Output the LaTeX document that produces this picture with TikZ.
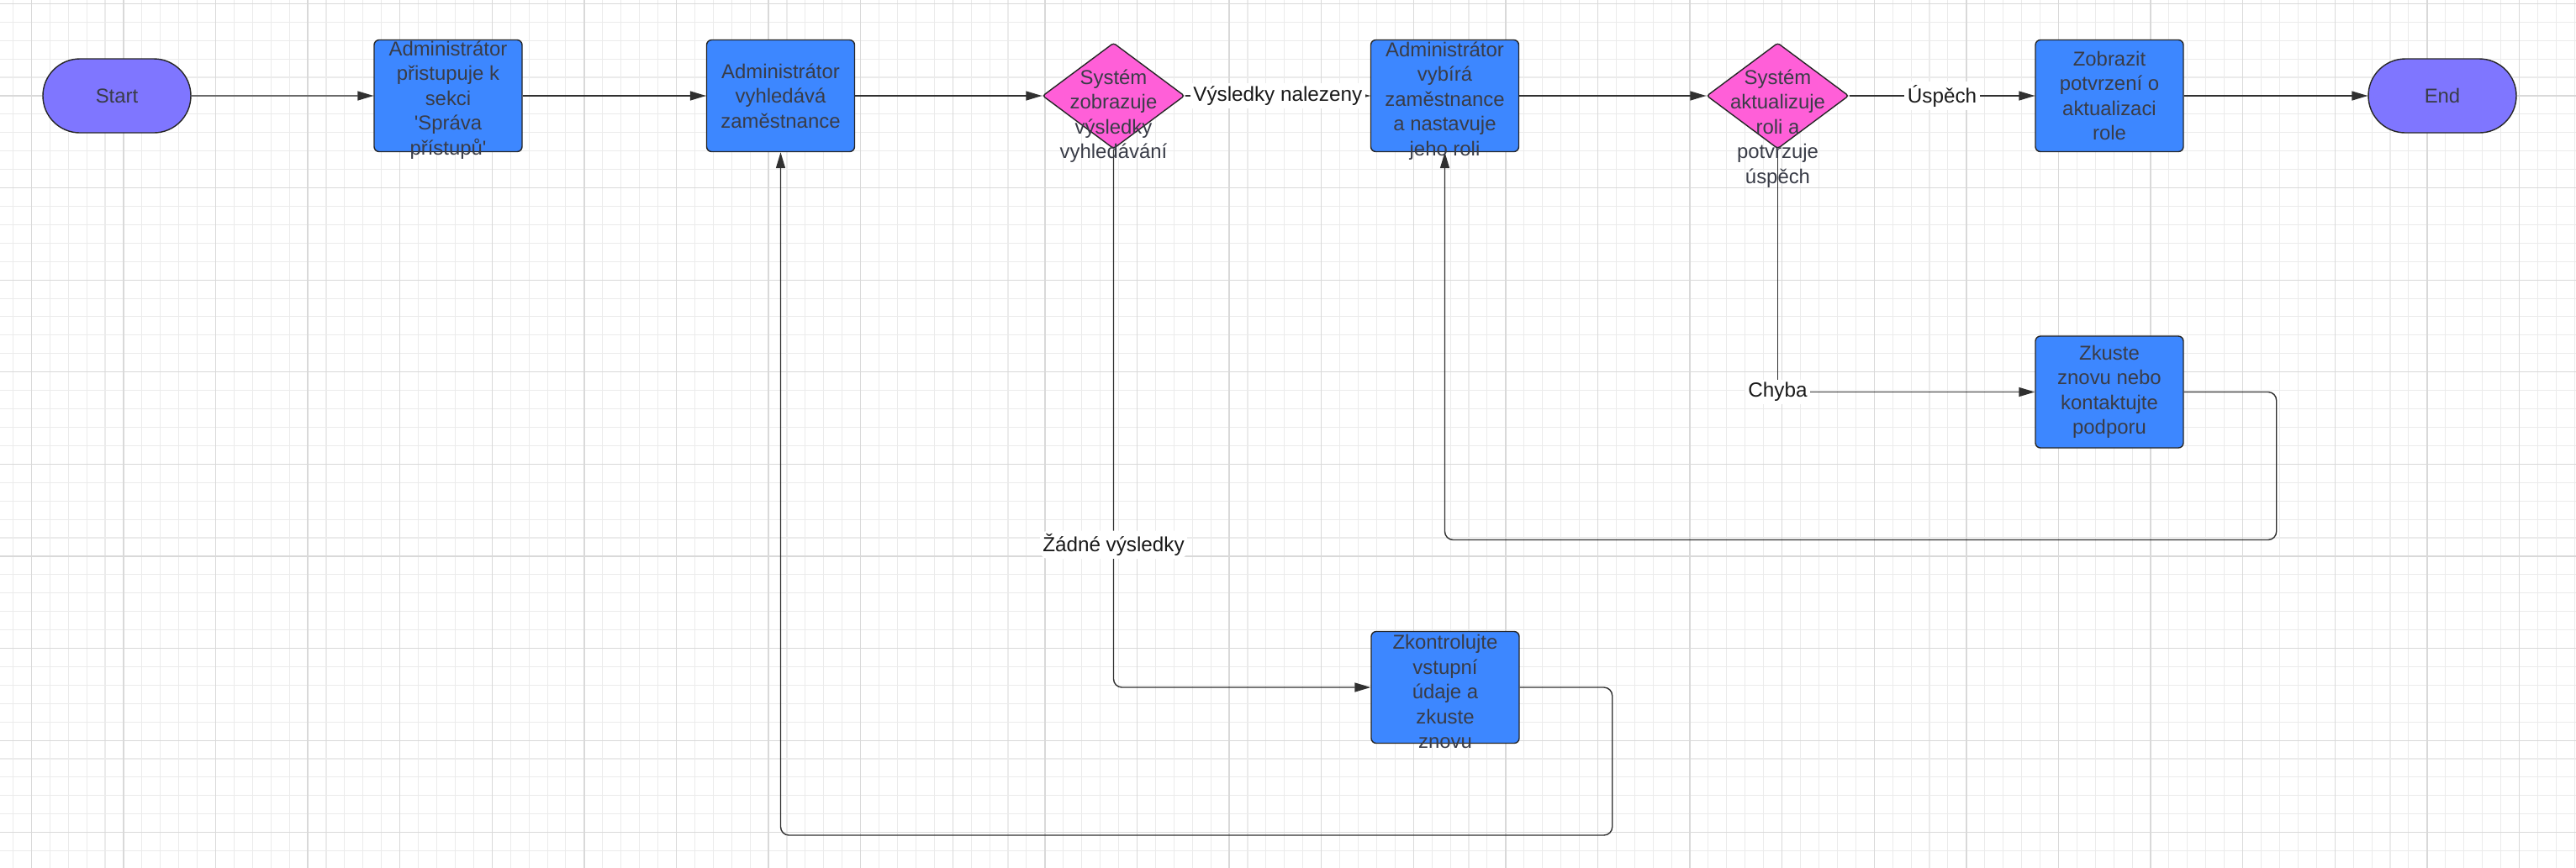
\documentclass[tikz,border=0pt]{standalone}
\usepackage{fontspec}
\setmainfont{Liberation Sans}
\usepackage{xcolor}
\usepackage{tikz}
\usetikzlibrary{shapes.geometric,shapes.misc,arrows.meta}

\definecolor{boxblue}{HTML}{3D87FF}
\definecolor{decpink}{HTML}{FF5FD8}
\definecolor{termpurple}{HTML}{7F76FF}
\definecolor{textgrey}{HTML}{393C47}
\definecolor{linegrey}{HTML}{303030}

\begin{document}
\begin{tikzpicture}[
    box/.style={draw=black!85, fill=boxblue, rounded corners=0.06cm, minimum width=1.76cm, minimum height=1.33cm, inner sep=0},
    dec/.style={diamond, draw=black!85, fill=decpink, rounded corners=0.03cm, minimum width=1.69cm, minimum height=1.26cm, inner sep=0},
    term/.style={rounded rectangle, draw=black!85, fill=termpurple, minimum width=1.76cm, minimum height=0.88cm, inner sep=0},
    txt/.style={align=center, text=textgrey, font=\fontsize{6.8}{8.4}\selectfont},
    lbl/.style={fill=white, text=black!90, inner sep=1pt, font=\fontsize{6.9}{8.4}\selectfont},
    arr/.style={draw=linegrey, line width=0.4pt, -{Triangle[length=1.9mm, width=1.1mm]}}
    ]
    \useasboundingbox (0,0) rectangle (30.64,-10.32);
    % background grid
    \begin{scope}
      \clip (0,0) rectangle (30.64,-10.32);
      \draw[shift={(0.373,-0.043)}, line width=0.3pt, color=black!8, step=0.2192] (-1,-11) grid (31,1);
      \draw[shift={(0.373,-0.043)}, line width=0.35pt, color=black!15, step=1.096] (-1,-11) grid (31,1);
    \end{scope}

    % shapes
    \node[term] (start) at (1.39,-1.14) {};
    \node[box] (b1) at (5.33,-1.14) {};
    \node[box] (b2) at (9.285,-1.14) {};
    \node[dec] (d1) at (13.245,-1.14) {};
    \node[box] (b3) at (17.185,-1.14) {};
    \node[dec] (d2) at (21.145,-1.14) {};
    \node[box] (b4) at (25.09,-1.14) {};
    \node[term] (stop) at (29.05,-1.14) {};
    \node[box] (b5) at (25.09,-4.665) {};
    \node[box] (b6) at (17.19,-8.18) {};

    % connectors
    \draw[arr] (start) -- (b1);
    \draw[arr] (b1) -- (b2);
    \draw[arr] (b2) -- (d1);
    \draw[arr] (d1) -- node[lbl] (l1) {Výsledky nalezeny} (b3);
    \draw[arr] (b3) -- (d2);
    \draw[arr] (d2) -- node[lbl] (l2) {Úspěch} (b4);
    \draw[arr] (b4) -- (stop);
    \draw[arr] (d2) |- node[lbl, pos=0.5] (l3) {Chyba} (b5);
    \draw[arr, rounded corners=0.1cm] (d1.south) -- node[lbl, pos=0.735] (l4) {Žádné výsledky} (d1.south |- b6.west) -- (b6.west);
    \draw[arr, rounded corners=0.1cm] (b6.east) -- ++(1.1,0) -- ++(0,-1.76) -| (b2.south);
    \draw[arr, rounded corners=0.1cm] (b5.east) -- ++(1.1,0) -- ++(0,-1.76) -| (b3.south);

    % texts
    \node[txt] (tstart) at (start) {Start};
    \node[txt] (t1) at ([yshift=-0.05cm]b1.center) {Administrátor\\přistupuje k\\sekci\\\textquotesingle Správa\\přístupů\textquotesingle};
    \node[txt] (t2) at (b2) {Administrátor\\vyhledává\\zaměstnance};
    \node[txt] (t3) at ([yshift=-0.24cm]d1.center) {Systém\\zobrazuje\\výsledky\\vyhledávání};
    \node[txt] (t4) at ([yshift=-0.06cm]b3.center) {Administrátor\\vybírá\\zaměstnance\\a nastavuje\\jeho roli};
    \node[txt] (t5) at ([yshift=-0.39cm]d2.center) {Systém\\aktualizuje\\roli a\\potvrzuje\\úspěch};
    \node[txt] (t6) at (b4) {Zobrazit\\potvrzení o\\aktualizaci\\role};
    \node[txt] (tstop) at (stop) {End};
    \node[txt] (t7) at (b5) {Zkuste\\znovu nebo\\kontaktujte\\podporu};
    \node[txt] (t8) at ([yshift=-0.05cm]b6.center) {Zkontrolujte\\vstupní\\údaje a\\zkuste\\znovu};
\end{tikzpicture}
\end{document}
